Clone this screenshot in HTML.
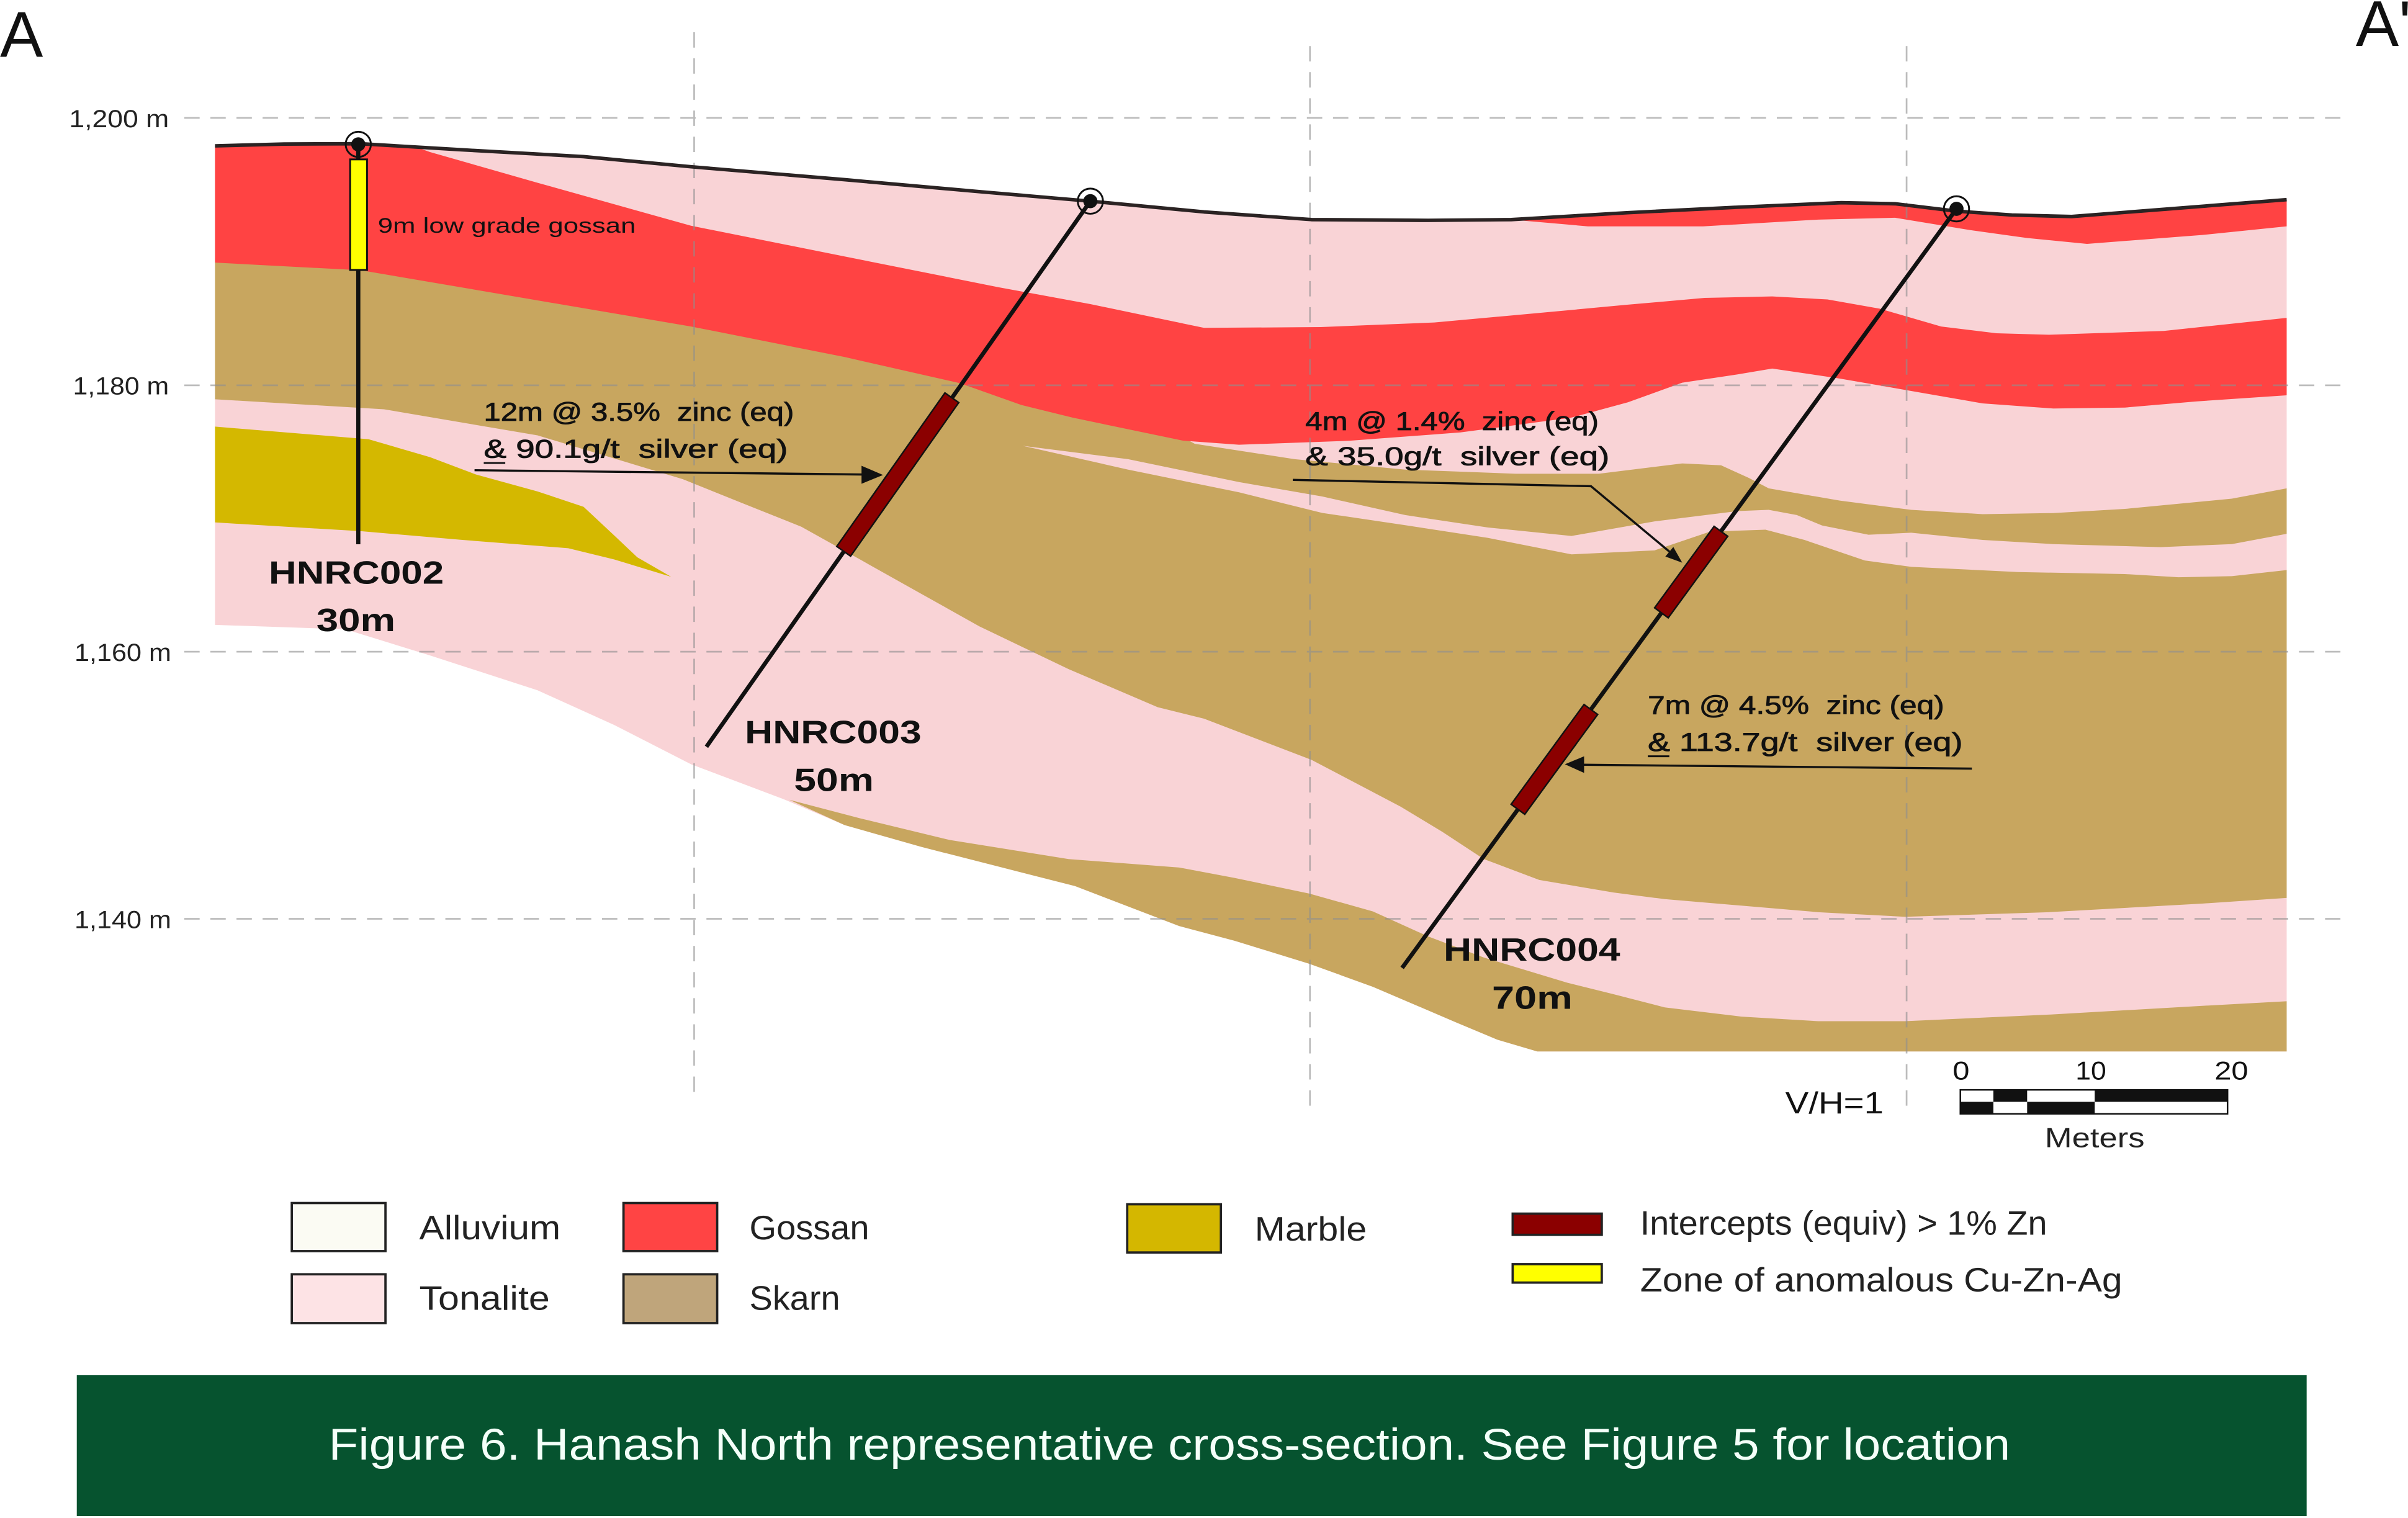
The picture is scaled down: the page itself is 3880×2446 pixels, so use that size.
<!DOCTYPE html>
<html>
<head>
<meta charset="utf-8">
<style>
  html,body{margin:0;padding:0;background:#ffffff;}
  svg{display:block;}
  text{font-family:"Liberation Sans", sans-serif; white-space:pre;}
</style>
</head>
<body>
<svg xmlns="http://www.w3.org/2000/svg" width="3880" height="2446" viewBox="0 0 1568 988.5" preserveAspectRatio="none">
  <rect x="0" y="0" width="1568" height="988.5" fill="#ffffff"/>

  <!-- Base section (tonalite) -->
  <path fill="#F9D3D6" d="M140,95 L185,93.8 L235,93.6 L300,97.5 L380,102 L450,108.6 L550,117 L640,125 L710,131 L784,138 L854,143 L930,143.5 L984,143 L1060,138.5 L1130,135 L1199,132 L1234,132.7 L1274,137.5 L1310,140 L1349,141 L1400,137 L1489,130 L1489,684.7 L1001,684.7 L975,677 L948.2,665.8 L894,642.6 L852.6,627.6 L803.9,612.6 L767.8,603 L700,577 L600,551.5 L550,537.3 L510,520.3 L450,497.7 L400,472.1 L350,449.5 L280,426.8 L225,409.8 L140,406.9 Z"/>

  <!-- Skarn main band -->
  <path fill="#C8A65F" d="M140,168 L235,173 L350,192.6 L450,209.6 L550,229.5 L625,246.5 L665,260.7 L698.6,269 L770.7,285 L778,289 L843,299 L915,305.8 L987,308.5 L1041,308.5 L1095.4,301.8 L1120.7,303 L1138.7,311.2 L1151.7,318 L1198,326 L1244.5,332 L1291,334.8 L1337,334.1 L1383.7,331.4 L1453.3,324.7 L1489,318 L1489,584.7 L1434,588.4 L1334,594 L1240.5,597 L1184,594 L1084,585.5 L1050.7,581.2 L1002.3,573 L966.2,559.4 L939.2,541.7 L912.1,525.3 L854,494.8 L784,468 L753.8,460.5 L695.8,435.7 L637.8,407.9 L599,386.2 L560.5,364.6 L521.8,343 L483,327.5 L444.5,312 L350,283.5 L250,266.5 L140,260 Z"/>

  <!-- Skarn lower band -->
  <path fill="#C8A65F" d="M514,520.8 L560.5,533 L618.5,547 L695.8,559.4 L767.8,564.9 L803.9,571.7 L852.6,581.9 L894,593.5 L930.2,609.9 L966.2,623.5 L1020.4,639.9 L1050.7,647.4 L1084,656 L1134,662 L1184,665 L1240.5,665 L1334,660.7 L1434,655 L1489,652 L1489,684.7 L1001,684.7 L975,677 L948.2,665.8 L894,642.6 L852.6,627.6 L803.9,612.6 L767.8,603 L700,577 L600,551.5 L550,537.3 Z"/>

  <!-- Tonalite sliver -->
  <path fill="#F9D3D6" d="M666,290.3 L734.6,299 L806.8,313.9 L861,323.3 L915,335.4 L969,343.5 L1023.3,349 L1077.4,339.5 L1131.5,332.8 L1151.7,332 L1170,335.4 L1186.5,342.2 L1216.7,348.2 L1244.5,346.9 L1291,351.6 L1337,354.3 L1407,356.3 L1453.3,354.3 L1489,347.6 L1489,371.2 L1453.3,375.2 L1418.5,375.9 L1383.7,373.8 L1314,372.5 L1244.5,369.1 L1214.3,365 L1175,351.6 L1149.6,344.9 L1113.5,346.2 L1077.4,358.4 L1023.3,361 L969,350.3 L915,342 L861,334 L806.8,320.6 L734.6,305.8 Z"/>

  <!-- Gossan main band -->
  <path fill="#FF4343" d="M140,95 L185,93.8 L235,93.6 L270,95.5 L280,99 L350,119 L450,147 L550,167 L650,187 L710,198 L784,213.5 L860,213 L934,210 L1000,204 L1059,198.5 L1110,194 L1154,193 L1190,195 L1224,201 L1264,212.6 L1300,217 L1334,218 L1409,215.5 L1489,207 L1489,257.4 L1430,261.4 L1383.7,265.4 L1337,266 L1291,262.7 L1244.5,254.6 L1198,246.5 L1154,240 L1131.5,243.8 L1095.4,249.2 L1060,262 L1023,272 L951,281.6 L879,287 L806.8,289.6 L770.7,287 L698.6,272 L665,263.7 L625,249.5 L550,232.5 L450,212.6 L350,195.6 L235,176 L140,171 Z"/>

  <!-- Gossan thin top band -->
  <path fill="#FF4343" d="M984,143 L1060,138.5 L1130,135 L1199,132 L1234,132.7 L1274,137.5 L1310,140 L1349,141 L1400,137 L1489,130 L1489,147.4 L1434,153 L1359,158.8 L1320,155 L1284,150 L1234,141.8 L1184,143 L1109,147.4 L1034,147.4 Z"/>

  <!-- Marble -->
  <path fill="#D4B800" d="M140,277.8 L240,286 L280,297.7 L310,309 L350,320 L380,330 L400,348.7 L415,362.9 L437,375.6 L400,364.3 L370,357 L300,351.5 L235,345.9 L140,340.2 Z"/>

  <!-- Grid lines -->
  <g stroke="#8f8f8f" stroke-width="1.1" stroke-dasharray="10 7" opacity="0.6" fill="none">
    <line x1="120" y1="76.8" x2="1524" y2="76.8"/>
    <line x1="120" y1="250.9" x2="1524" y2="250.9"/>
    <line x1="120" y1="424.4" x2="1524" y2="424.4"/>
    <line x1="120" y1="598.3" x2="1524" y2="598.3"/>
    <line x1="452" y1="21" x2="452" y2="717"/>
    <line x1="853" y1="30" x2="853" y2="722"/>
    <line x1="1241.5" y1="30" x2="1241.5" y2="725"/>
  </g>

  <!-- Surface line -->
  <path fill="none" stroke="#2b2323" stroke-width="2.3" stroke-linejoin="round" d="M140,95 L185,93.8 L235,93.6 L300,97.5 L380,102 L450,108.6 L550,117 L640,125 L710,131 L784,138 L854,143 L930,143.5 L984,143 L1060,138.5 L1130,135 L1199,132 L1234,132.7 L1274,137.5 L1310,140 L1349,141 L1400,137 L1489,130"/>

  <!-- Tick labels -->
  <g fill="#222" font-size="16">
    <text x="45" y="82.8" textLength="65" lengthAdjust="spacingAndGlyphs">1,200 m</text>
    <text x="47.5" y="256.9" textLength="62.5" lengthAdjust="spacingAndGlyphs">1,180 m</text>
    <text x="48.5" y="430.4" textLength="63" lengthAdjust="spacingAndGlyphs">1,160 m</text>
    <text x="48.5" y="604.3" textLength="63" lengthAdjust="spacingAndGlyphs">1,140 m</text>
  </g>

  <!-- Section ends -->
  <text x="0" y="37" font-size="42" fill="#111">A</text>
  <text x="1534" y="30" font-size="42" fill="#111">A'</text>

  <!-- Drill holes -->
  <g stroke="#111" stroke-width="2.7" fill="none" stroke-linecap="butt">
    <line x1="233.3" y1="94" x2="233.3" y2="354.4"/>
    <line x1="710" y1="131" x2="460" y2="486.3"/>
    <line x1="1274" y1="136" x2="913" y2="630.3"/>
  </g>

  <!-- HNRC002 yellow zone -->
  <rect x="228" y="103.8" width="11" height="72" fill="#FFFF00" stroke="#111" stroke-width="1.2"/>

  <!-- Intercepts -->
  <g fill="#8B0000" stroke="#111" stroke-width="1">
    <rect x="0" y="-5.5" width="122.3" height="11" transform="translate(619.8,259) rotate(125.16)"/>
    <rect x="0" y="-5.5" width="65.7" height="11" transform="translate(1120.6,346) rotate(126.14)"/>
    <rect x="0" y="-5.5" width="80.5" height="11" transform="translate(1035.9,462) rotate(126.14)"/>
  </g>

  <!-- Collars -->
  <g>
    <circle cx="233.3" cy="94" r="8.2" fill="none" stroke="#111" stroke-width="1.2"/>
    <circle cx="233.3" cy="94" r="4.6" fill="#111"/>
    <circle cx="710" cy="131" r="8.2" fill="none" stroke="#111" stroke-width="1.2"/>
    <circle cx="710" cy="131" r="4.6" fill="#111"/>
    <circle cx="1274" cy="136" r="8.2" fill="none" stroke="#111" stroke-width="1.2"/>
    <circle cx="1274" cy="136" r="4.6" fill="#111"/>
  </g>

  <!-- Arrows -->
  <g stroke="#111" stroke-width="1.4" fill="none">
    <line x1="309" y1="306.2" x2="563" y2="309"/>
    <polyline points="841.8,312.5 1036,316.6 1088,360"/>
    <line x1="1284" y1="500.5" x2="1030" y2="498"/>
  </g>
  <g fill="#111">
    <polygon points="575,309.3 561,303.3 561,315"/>
    <polygon points="1095.4,366.4 1084.4,362.4 1089.6,356.2"/>
    <polygon points="1019,497.7 1031.5,492.5 1031.5,503.3"/>
  </g>

  <!-- Annotations -->
  <g fill="#111" stroke="#111" stroke-width="0.35" font-size="17">
    <text x="315" y="274" textLength="202" lengthAdjust="spacingAndGlyphs">12m @ 3.5%  zinc (eq)</text>
    <text x="315" y="298" textLength="198" lengthAdjust="spacingAndGlyphs">&amp; 90.1g/t  silver (eq)</text>
    <text x="850" y="280" textLength="191" lengthAdjust="spacingAndGlyphs">4m @ 1.4%  zinc (eq)</text>
    <text x="850" y="303" textLength="198" lengthAdjust="spacingAndGlyphs">&amp; 35.0g/t  silver (eq)</text>
    <text x="1073" y="465" textLength="193" lengthAdjust="spacingAndGlyphs">7m @ 4.5%  zinc (eq)</text>
    <text x="1073" y="489" textLength="205" lengthAdjust="spacingAndGlyphs">&amp; 113.7g/t  silver (eq)</text>
  </g>
  <g stroke="#111" stroke-width="1.2">
    <line x1="315" y1="301.5" x2="329" y2="301.5"/>
    <line x1="1073" y1="492.5" x2="1087" y2="492.5"/>
  </g>
  <text x="246" y="151.5" font-size="14" fill="#111" textLength="168" lengthAdjust="spacingAndGlyphs">9m low grade gossan</text>

  <!-- Hole labels -->
  <g fill="#111" font-weight="bold" font-size="21">
    <text x="175" y="380" textLength="114" lengthAdjust="spacingAndGlyphs">HNRC002</text>
    <text x="206" y="411" textLength="51.5" lengthAdjust="spacingAndGlyphs">30m</text>
    <text x="485" y="484" textLength="115" lengthAdjust="spacingAndGlyphs">HNRC003</text>
    <text x="517" y="515" textLength="52" lengthAdjust="spacingAndGlyphs">50m</text>
    <text x="940" y="625.5" textLength="115" lengthAdjust="spacingAndGlyphs">HNRC004</text>
    <text x="971.5" y="657" textLength="52.5" lengthAdjust="spacingAndGlyphs">70m</text>
  </g>

  <!-- Scale bar -->
  <text x="1162.5" y="725" font-size="20" fill="#111" textLength="64" lengthAdjust="spacingAndGlyphs">V/H=1</text>
  <g fill="#111" font-size="17">
    <text x="1271.5" y="703" textLength="11" lengthAdjust="spacingAndGlyphs">0</text>
    <text x="1351.5" y="703" textLength="20" lengthAdjust="spacingAndGlyphs">10</text>
    <text x="1442" y="703" textLength="22" lengthAdjust="spacingAndGlyphs">20</text>
  </g>
  <g>
    <rect x="1276.5" y="709.7" width="174" height="15.6" fill="#fff" stroke="#111" stroke-width="1"/>
    <rect x="1298" y="709.7" width="22" height="7.8" fill="#111"/>
    <rect x="1364" y="709.7" width="86.5" height="7.8" fill="#111"/>
    <rect x="1276.5" y="717.5" width="21.5" height="7.8" fill="#111"/>
    <rect x="1320" y="717.5" width="44" height="7.8" fill="#111"/>
  </g>
  <text x="1331.5" y="747" font-size="18" fill="#222" textLength="65" lengthAdjust="spacingAndGlyphs">Meters</text>

  <!-- Legend -->
  <g stroke="#222" stroke-width="1.5">
    <rect x="190" y="783.4" width="61" height="31.3" fill="#FBFBF3"/>
    <rect x="406" y="783.4" width="61" height="31.3" fill="#FF4444"/>
    <rect x="734" y="784.2" width="61" height="31.4" fill="#D4B700"/>
    <rect x="190" y="829.8" width="61" height="31.8" fill="#FDE3E5"/>
    <rect x="406" y="829.8" width="61" height="31.8" fill="#BFA57B"/>
    <rect x="985" y="790.3" width="58" height="13.8" fill="#8B0000"/>
    <rect x="985" y="823.2" width="58" height="12" fill="#FFFF00"/>
  </g>
  <g fill="#222" font-size="22">
    <text x="273" y="807" textLength="92" lengthAdjust="spacingAndGlyphs">Alluvium</text>
    <text x="488" y="807" textLength="78" lengthAdjust="spacingAndGlyphs">Gossan</text>
    <text x="817" y="807.8" textLength="73" lengthAdjust="spacingAndGlyphs">Marble</text>
    <text x="1068" y="804" textLength="265" lengthAdjust="spacingAndGlyphs">Intercepts (equiv) &gt; 1% Zn</text>
    <text x="1068" y="841" textLength="314" lengthAdjust="spacingAndGlyphs">Zone of anomalous Cu-Zn-Ag</text>
    <text x="273" y="853" textLength="85" lengthAdjust="spacingAndGlyphs">Tonalite</text>
    <text x="488" y="853" textLength="59" lengthAdjust="spacingAndGlyphs">Skarn</text>
  </g>

  <!-- Caption banner -->
  <rect x="50" y="895.5" width="1452" height="91.8" fill="#06532F"/>
  <text x="214" y="950.5" font-size="29" fill="#F4FFF9" textLength="1095" lengthAdjust="spacingAndGlyphs">Figure 6. Hanash North representative cross-section. See Figure 5 for location</text>
</svg>
</body>
</html>
